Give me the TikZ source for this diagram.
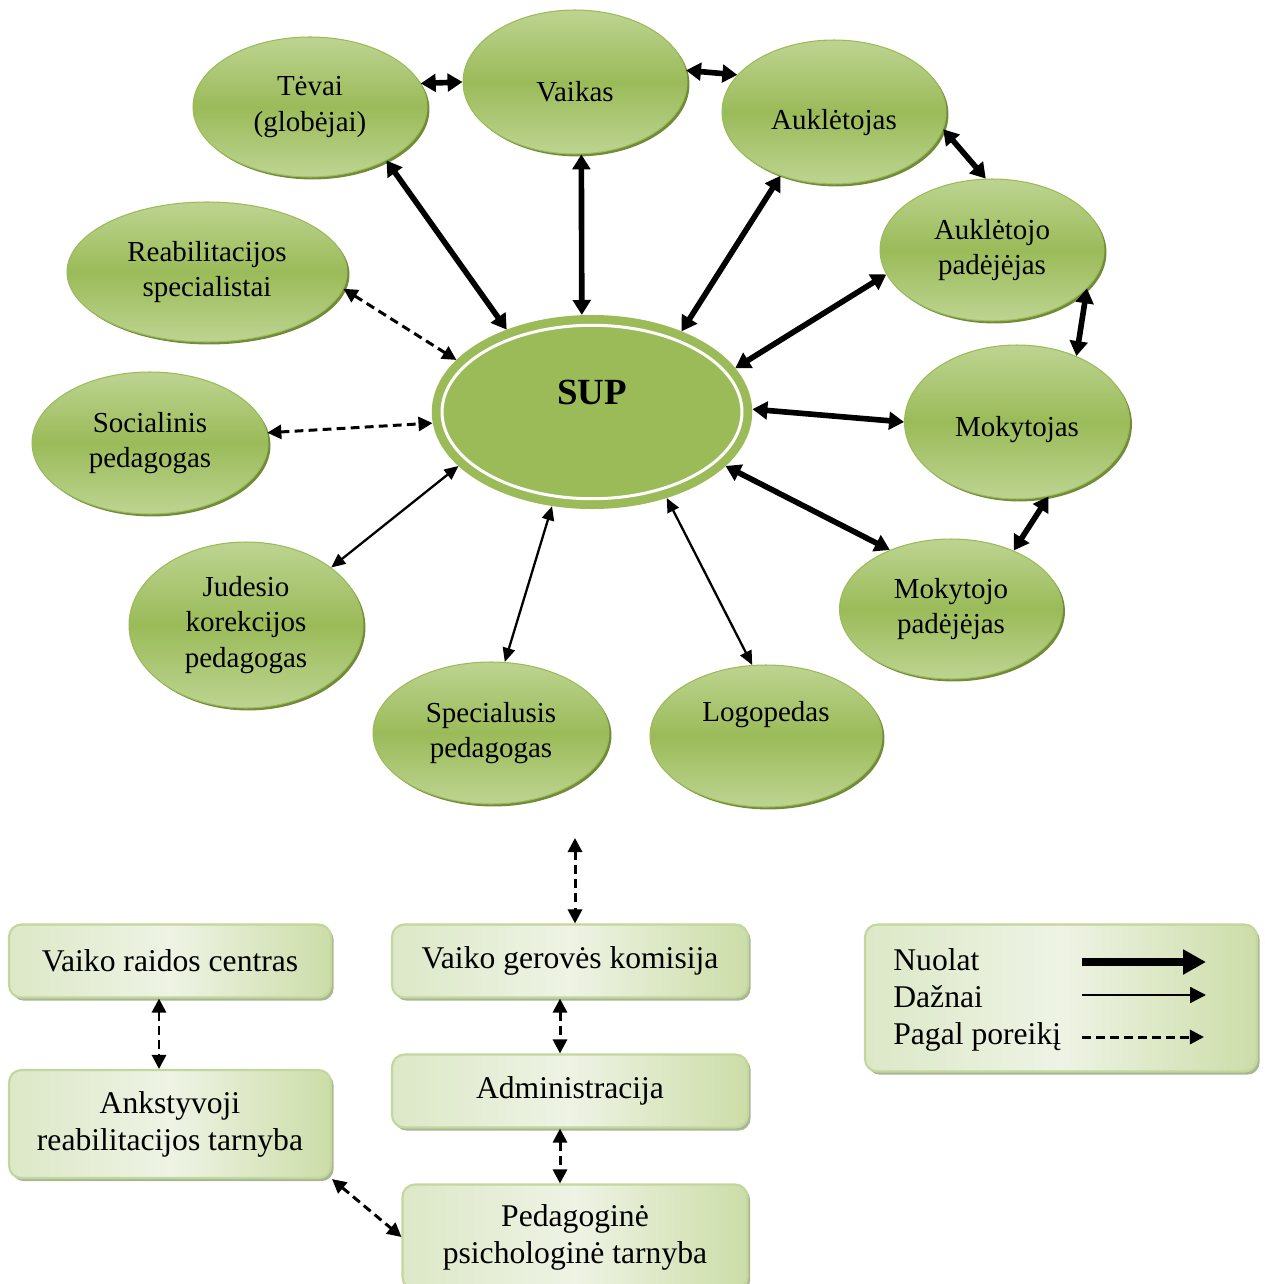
\documentclass[tikz,border=0pt]{standalone}
\usepackage{fontspec}
\setmainfont{Liberation Serif}
\usetikzlibrary{arrows.meta,shapes.geometric,shadows}

\definecolor{ellgreen}{HTML}{9BBB59}
\definecolor{elllight}{HTML}{BDD491}
\definecolor{ellshade}{HTML}{718B38}
\definecolor{boxline}{HTML}{C3D69B}
\definecolor{boxleft}{HTML}{DCE8C7}
\definecolor{boxmid}{HTML}{EEF3E4}
\definecolor{boxright}{HTML}{CCDDA8}
\definecolor{boxshade}{HTML}{A7B693}

\tikzset{
  person/.style={ellipse, draw=ellgreen, line width=0.6pt, top color=elllight,
    bottom color=elllight, middle color=ellgreen, align=center, inner sep=1pt,
    font=\fontsize{16.5}{20}\selectfont,
    drop shadow={opacity=1, fill=ellshade, shadow xshift=1.4pt, shadow yshift=-1.4pt}},
  core/.style={ellipse, fill=ellgreen, draw=ellgreen, line width=5pt, double=white,
    double distance=1.7pt, outer sep=6pt, minimum width=6cm, minimum height=3.47cm,
    font=\fontsize{21}{25}\selectfont\bfseries},
  unit/.style={rectangle, rounded corners=7pt, draw=boxline, line width=1.2pt,
    left color=boxleft, right color=boxright, middle color=boxmid, align=center,
    font=\fontsize{18}{21}\selectfont,
    drop shadow={opacity=1, fill=boxshade, shadow xshift=1.5pt, shadow yshift=-1.8pt}},
  legtext/.style={anchor=base west, inner sep=0pt, font=\fontsize{18}{21}\selectfont},
  nuolat/.style={line width=3.2pt, {Triangle[length=8.5pt,width=10pt]}-{Triangle[length=8.5pt,width=10pt]}},
  daznai/.style={line width=1.3pt, {Triangle[length=8pt,width=7pt]}-{Triangle[length=8pt,width=7pt]}},
  poreikis/.style={line width=1.7pt, dash pattern=on 5pt off 3pt,
    {Triangle[length=8pt,width=8pt]}-{Triangle[length=8pt,width=8pt]}}
}

\begin{document}
\begin{tikzpicture}[x=0.02cm,y=-0.02cm]
  \useasboundingbox (0,0) rectangle (1264,1284);
  \clip (0,0) rectangle (1264,1284);

  % centre
  \node[core, text depth=22pt] (sup) at (592,412) {SUP};

  % people round the child
  \node[person, minimum width=4.68cm, minimum height=2.8cm]  (tevai)   at (310,107) {Tėvai\\(globėjai)};
  \node[person, minimum width=4.48cm, minimum height=2.88cm, text height=23pt] (vaikas) at (575,82) {Vaikas};
  \node[person, minimum width=4.48cm, minimum height=2.88cm, text height=23pt] (aukl) at (834,112) {Auklėtojas};
  \node[person, minimum width=4.48cm, minimum height=2.84cm] (auklpad) at (992,250) {Auklėtojo\\padėjėjas};
  \node[person, minimum width=5.6cm,  minimum height=2.8cm]  (reab)    at (207,272) {Reabilitacijos\\specialistai};
  \node[person, minimum width=4.5cm,  minimum height=3.08cm, text height=20pt] (mok) at (1017,422) {Mokytojas};
  \node[person, minimum width=4.72cm, minimum height=2.84cm] (soc)     at (150,443) {Socialinis\\pedagogas};
  \node[person, minimum width=4.68cm, minimum height=3.32cm] (jud)     at (246,625) {Judesio\\korekcijos\\pedagogas};
  \node[person, minimum width=4.46cm, minimum height=2.8cm]  (mokpad)  at (951,609) {Mokytojo\\padėjėjas};
  \node[person, minimum width=4.72cm, minimum height=2.84cm] (spec)    at (491,733) {Specialusis\\pedagogas};
  \node[person, minimum width=4.64cm, minimum height=2.84cm, text depth=28pt] (logo) at (766,736) {Logopedas};

  % services
  \node[unit, minimum width=6.44cm, minimum height=1.46cm] (vrc) at (170,961)  {Vaiko raidos centras};
  \node[unit, minimum width=6.44cm, minimum height=2.16cm] (ank) at (170,1124) {Ankstyvoji\\reabilitacijos tarnyba};
  \node[unit, minimum width=7.12cm, minimum height=1.46cm] (vgk) at (570,961)  {Vaiko gerovės komisija};
  \node[unit, minimum width=7.12cm, minimum height=1.46cm] (adm) at (570,1091) {Administracija};
  \node[unit, minimum width=6.9cm,  minimum height=2.1cm]  (ppt) at (575,1237) {Pedagoginė\\psichologinė tarnyba};

  % legend
  \node[unit, minimum width=7.84cm, minimum height=2.94cm] (legend) at (1061,998) {};
  \node[legtext] (lnuolat)   at (893,970)  {Nuolat};
  \node[legtext] (ldaznai)   at (893,1007) {Dažnai};
  \node[legtext] (lporeikis) at (893,1044) {Pagal poreikį};
  \coordinate (n1) at (1082,962);  \coordinate (n2) at (1206,962);
  \coordinate (d1) at (1082,995);  \coordinate (d2) at (1206,995);
  \coordinate (p1) at (1082,1037); \coordinate (p2) at (1204,1037);
  \draw[nuolat, line width=4.5pt, -{Triangle[length=13pt,width=13.5pt]}] (n1) -- (n2);
  \draw[daznai, -{Triangle[length=9pt,width=9pt]}] (d1) -- (d2);
  \draw[poreikis, -{Triangle[length=8pt,width=8pt]}] (p1) -- (p2);

  % constant links
  \draw[nuolat] (tevai.12) -- (vaikas.180);
  \draw[nuolat] (vaikas.6) -- (aukl.159);
  \draw[nuolat] (aukl.-9) -- (auklpad.95);
  \draw[nuolat] (auklpad.-22) -- (mok.48);
  \draw[nuolat] (mok.-67) -- (mokpad.43);
  \draw[nuolat] (tevai.-35) -- (sup.136);
  \draw[nuolat] (vaikas.-85) -- (sup.96);
  \draw[nuolat] (aukl.-130) -- (sup.42);
  \draw[nuolat] (auklpad.193) -- (sup.17);
  \draw[nuolat] (sup.1) -- (mok.180);
  \draw[nuolat] (sup.-22) -- (mokpad.136);

  % frequent links
  \draw[daznai] (sup.202) -- (jud.34);
  \draw[daznai] (sup.-113) -- (spec.79);
  \draw[daznai] (sup.-49) -- (logo.101);

  % links when needed
  \draw[poreikis] (reab.-7) -- (sup.159);
  \draw[poreikis] (soc.5) -- (sup.184);
  \coordinate (team) at (575,838);
  \draw[poreikis] (team) -- (team |- vgk.north);
  \draw[poreikis] ([xshift=-0.22cm]vrc.south) -- ([xshift=-0.22cm]ank.north);
  \draw[poreikis] ([xshift=-0.2cm]vgk.south) -- ([xshift=-0.2cm]adm.north);
  \draw[poreikis] ([xshift=-0.2cm]adm.south) -- ([xshift=-0.2cm]adm.south |- ppt.north);
  \draw[poreikis] (ank.south east) -- (ppt.west);
\end{tikzpicture}
\end{document}
